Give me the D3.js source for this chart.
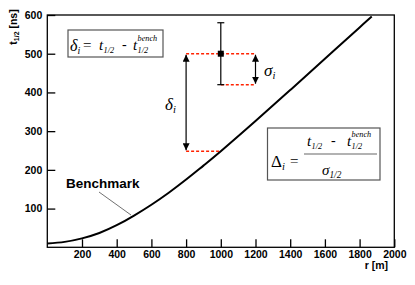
<!DOCTYPE html>
<html><head><meta charset="utf-8">
<script src="https://cdn.jsdelivr.net/npm/d3@7"></script>
<style>body{margin:0;background:#fff}svg{display:block}</style>
</head><body><svg id="c" width="415" height="285"></svg>
<script>
// ---- data ----
const benchR = [0,100,200,300,400,500,600,700,800,900,1000,1200,1400,1600,1800,1870];
const benchT = [10,14,23,37,57,82,110,141,175,211,248,326,406,487,568,596];
const xTicks = [200,400,600,800,1000,1200,1400,1600,1800,2000];
const yTicks = [100,200,300,400,500,600];
const pointR = [1000];
const pointT = [500];
const pointErr = [80];
const benchAtPoint = [248];
const deltaArrowR = [800];
const sigmaArrowR = [1200];

const svg = d3.select('#c');
const x = d3.scaleLinear([0,2000],[47.3,394.3]);
const y = d3.scaleLinear([0,600],[247.3,15]);
const sans = "'Liberation Sans', Arial, Helvetica, sans-serif";
const serif = "'Liberation Serif', 'Times New Roman', serif";

const defs = svg.append('defs');
defs.append('marker').attr('id','ah').attr('viewBox','0 0 10 10').attr('refX',10).attr('refY',5)
  .attr('markerWidth',7).attr('markerHeight',7).attr('markerUnits','userSpaceOnUse').attr('orient','auto-start-reverse')
  .append('path').attr('d','M0,0 L10,5 L0,10 Z').attr('fill','#000');

// axes
const xa = svg.append('g').attr('transform',`translate(0,${y(0)})`)
  .call(d3.axisBottom(x).tickValues(xTicks).tickFormat(d3.format('d')).tickSizeInner(-8).tickSizeOuter(0).tickPadding(3));
const ya = svg.append('g').attr('transform',`translate(${x(0)},0)`)
  .call(d3.axisLeft(y).tickValues(yTicks).tickFormat(d3.format('d')).tickSizeInner(-8).tickSizeOuter(0).tickPadding(5));
[xa,ya].forEach(g=>{
  g.select('.domain').remove();
  g.selectAll('.tick line').attr('stroke','#000').attr('stroke-width',1.3);
  g.selectAll('.tick text').attr('fill','#000').style('font-family',sans).style('font-weight','bold').style('font-size','10.5px');
});
svg.append('rect').attr('x',x(0)).attr('y',y(600)).attr('width',x(2000)-x(0)).attr('height',y(0)-y(600))
  .attr('fill','none').attr('stroke','#000').attr('stroke-width',1.3);

// axis titles
svg.append('text').attr('x',388).attr('y',269).attr('text-anchor','end')
  .style('font-family',sans).style('font-weight','bold').style('font-size','10.5px').text('r [m]');
const yt = svg.append('text').attr('transform','translate(17,27) rotate(-90)').attr('text-anchor','middle')
  .style('font-family',sans).style('font-weight','bold').style('font-size','10.5px');
yt.append('tspan').text('t');
yt.append('tspan').attr('font-size','7px').attr('dy',2).text('1/2');
yt.append('tspan').attr('dy',-2).text(' [ns]');

// benchmark curve
const pts = benchR.map((r,i)=>[r,benchT[i]]);
svg.append('path').datum(pts).attr('fill','none').attr('stroke','#000').attr('stroke-width',2)
  .attr('d',d3.line().x(d=>x(d[0])).y(d=>y(d[1])).curve(d3.curveNatural));

// Benchmark label + leader
svg.append('text').attr('x',66).attr('y',188).style('font-family',sans).style('font-weight','bold').style('font-size','13.5px').text('Benchmark');
svg.append('line').attr('x1',99).attr('y1',192).attr('x2',131).attr('y2',215).attr('stroke','#333').attr('stroke-width',0.7);

// red dashed guides
const red = '#ff2200';
const guides = [
  [deltaArrowR[0], sigmaArrowR[0], pointT[0]],
  [pointR[0], sigmaArrowR[0], pointT[0]-pointErr[0]],
  [deltaArrowR[0], pointR[0], benchAtPoint[0]]
];
svg.selectAll('.g').data(guides).join('line')
  .attr('x1',d=>x(d[0])).attr('x2',d=>x(d[1])).attr('y1',d=>y(d[2])).attr('y2',d=>y(d[2]))
  .attr('stroke',red).attr('stroke-width',1.5).attr('stroke-dasharray','3,2');

// error bar
const eb = svg.append('g');
eb.append('line').attr('x1',x(pointR[0])).attr('x2',x(pointR[0])).attr('y1',y(pointT[0]-pointErr[0])).attr('y2',y(pointT[0]+pointErr[0])).attr('stroke','#000').attr('stroke-width',1.2);
[pointT[0]-pointErr[0], pointT[0]+pointErr[0]].forEach(v=>{
  eb.append('line').attr('x1',x(pointR[0])-3.5).attr('x2',x(pointR[0])+3.5).attr('y1',y(v)).attr('y2',y(v)).attr('stroke','#000').attr('stroke-width',1.2);
});
eb.append('rect').attr('x',x(pointR[0])-3).attr('y',y(pointT[0])-3).attr('width',6).attr('height',6).attr('fill','#000');

// arrows
const arrows = [
  [deltaArrowR[0], pointT[0], benchAtPoint[0]],
  [sigmaArrowR[0], pointT[0], pointT[0]-pointErr[0]]
];
svg.selectAll('.ar').data(arrows).join('line')
  .attr('x1',d=>x(d[0])).attr('x2',d=>x(d[0])).attr('y1',d=>y(d[1])+1).attr('y2',d=>y(d[2])-1)
  .attr('stroke','#000').attr('stroke-width',1.2)
  .attr('marker-start','url(#ah)').attr('marker-end','url(#ah)');

function symb(xp, yp, main, sub, size, upright){
  const t = svg.append('text').attr('x',xp).attr('y',yp).style('font-family',serif).style('font-size',size+'px');
  t.append('tspan').style('font-style',upright?'normal':'italic').text(main);
  if (sub) t.append('tspan').style('font-style','italic').attr('font-size',(size*0.62)+'px').attr('dy',size*0.2).text(sub);
  return t;
}
symb(165,110,'δ','i',17);
symb(264,76,'σ','i',17);

// box 1
svg.append('rect').attr('x',68).attr('y',30).attr('width',95).attr('height',27).attr('fill','#fff').attr('stroke','#555').attr('stroke-width',1.2);
symb(70,51,'δ','i',16);
svg.append('text').attr('x',83).attr('y',50).style('font-family',serif).style('font-size','15px').text('=');
function tHalf(xp, yp, size, sup){
  svg.append('text').attr('x',xp).attr('y',yp).style('font-family',serif).style('font-style','italic').style('font-size',size+'px').text('t');
  svg.append('text').attr('x',xp+4.5).attr('y',yp+3).style('font-family',serif).style('font-style','italic').style('font-size',(size*0.55)+'px').text('1/2');
  if (sup) svg.append('text').attr('x',xp+4.5).attr('y',yp-9).style('font-family',serif).style('font-style','italic').style('font-size',(size*0.55)+'px').text('bench');
}
tHalf(99,50,15,false);
svg.append('text').attr('x',122).attr('y',49).style('font-family',serif).style('font-size','14px').text('-');
tHalf(133,50,15,true);

// box 2
svg.append('rect').attr('x',267.5).attr('y',128).attr('width',112.5).attr('height',52).attr('fill','#fff').attr('stroke','#555').attr('stroke-width',1.2);
symb(271,167,'Δ','i',17,true);
svg.append('text').attr('x',290).attr('y',166).style('font-family',serif).style('font-size','15px').text('=');
svg.append('line').attr('x1',304).attr('x2',377).attr('y1',154).attr('y2',154).attr('stroke','#666').attr('stroke-width',1.2);
tHalf(307,146,15,false);
svg.append('text').attr('x',331).attr('y',145).style('font-family',serif).style('font-size','14px').text('-');
tHalf(347,146,15,true);
symb(322,175,'σ','1/2',15);
</script></body></html>
